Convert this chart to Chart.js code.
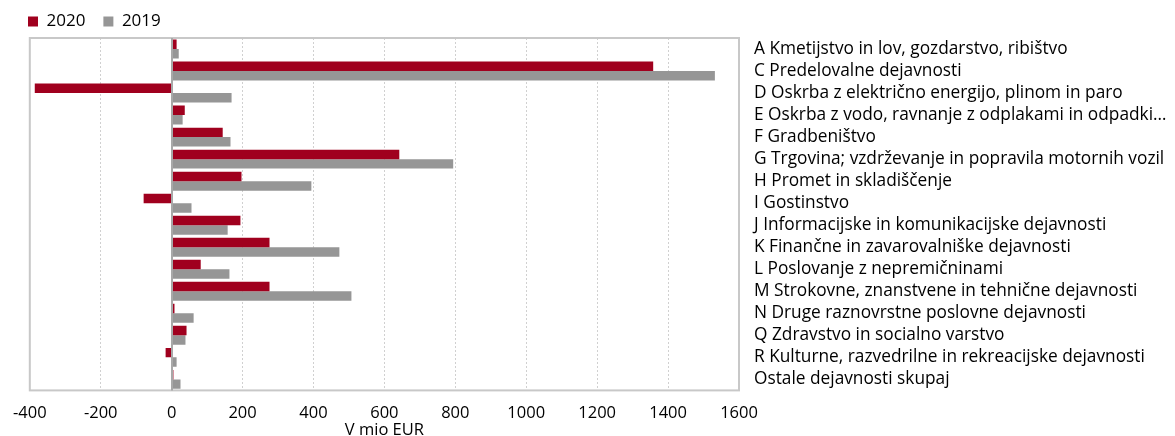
<!DOCTYPE html>
<html>
<head>
<meta charset="utf-8">
<script src="https://cdn.jsdelivr.net/npm/chart.js@4"></script>
<style>
  html, body { margin: 0; padding: 0; background: #fff; }
  #wrap { width: 1175px; height: 436px; }
</style>
</head>
<body>
<div id="wrap"><canvas id="chart"></canvas></div>
<script>
// Dejavnosti (kategorije)
const categories = [
    "A Kmetijstvo in lov, gozdarstvo, ribištvo",
    "C Predelovalne dejavnosti",
    "D Oskrba z električno energijo, plinom in paro",
    "E Oskrba z vodo, ravnanje z odplakami in odpadki…",
    "F Gradbeništvo",
    "G Trgovina; vzdrževanje in popravila motornih vozil",
    "H Promet in skladiščenje",
    "I Gostinstvo",
    "J Informacijske in komunikacijske dejavnosti",
    "K Finančne in zavarovalniške dejavnosti",
    "L Poslovanje z nepremičninami",
    "M Strokovne, znanstvene in tehnične dejavnosti",
    "N Druge raznovrstne poslovne dejavnosti",
    "Q Zdravstvo in socialno varstvo",
    "R Kulturne, razvedrilne in rekreacijske dejavnosti",
    "Ostale dejavnosti skupaj"
];

// Vrednosti v mio EUR
const values2020 = [14, 1358, -386, 37, 144, 642, 197, -79, 194, 276, 82, 276, 8, 42, -17, 5];
const values2019 = [20, 1532, 169, 31, 166, 794, 394, 56, 158, 473, 163, 507, 62, 39, 14, 25];

const xTicks = [-400, -200, 0, 200, 400, 600, 800, 1000, 1200, 1400, 1600];

const font = "'Open Sans', Lato, sans-serif";

// Okvir in ničelna črta
const framePlugin = {
    id: "frame",
    afterDatasetsDraw(chart) {
        const { ctx, chartArea: a, scales } = chart;
        ctx.save();
        ctx.strokeStyle = "#c8c8c8";
        ctx.lineWidth = 2;
        ctx.strokeRect(a.left, a.top, a.right - a.left, a.bottom - a.top);
        const x0 = Math.round(scales.x.getPixelForValue(0));
        ctx.strokeStyle = "#a8a8a8";
        ctx.beginPath();
        ctx.moveTo(x0, a.top);
        ctx.lineTo(x0, a.bottom);
        ctx.stroke();
        ctx.restore();
    }
};

// Legenda: fiksna višina in zamik
const legendPlugin = {
    id: "legendPos",
    beforeLayout(chart) {
        const lg = chart.legend;
        if (lg && !lg._patched) {
            const fit = lg.fit.bind(lg);
            lg.fit = function () { fit(); this.height = 38; };
            lg._patched = true;
        }
    },
    afterLayout(chart) {
        chart.legend.left += 10;
        chart.legend.top -= 5;
    }
};

const ctx = document.getElementById("chart").getContext("2d");

new Chart(ctx, {
    type: "bar",
    data: {
        labels: categories,
        datasets: [
            { label: "2020", data: values2020, backgroundColor: "#a0001e" },
            { label: "2019", data: values2019, backgroundColor: "#969696" }
        ]
    },
    options: {
        indexAxis: "y",
        responsive: true,
        maintainAspectRatio: false,
        animation: false,
        layout: { padding: 0 },
        categoryPercentage: 0.86,
        barPercentage: 1.0,
        plugins: {
            legend: {
                align: "start",
                labels: {
                    boxWidth: 10,
                    boxHeight: 10,
                    color: "#000",
                    font: { family: font, size: 17 },
                    padding: 18
                }
            },
            tooltip: { enabled: false }
        },
        scales: {
            x: {
                min: -400,
                max: 1600,
                afterBuildTicks: (s) => { s.ticks = xTicks.map(v => ({ value: v })); },
                grid: { color: "#d0d0d0", drawTicks: false, lineWidth: 1 },
                border: { display: false, dash: [2, 2] },
                ticks: {
                    color: "#000",
                    padding: 13,
                    maxRotation: 0,
                    callback: (v) => String(v),
                    font: { family: font, size: 16.5 }
                },
                title: {
                    display: true,
                    text: "V mio EUR",
                    color: "#000",
                    padding: { top: -16, bottom: -4 },
                    font: { family: font, size: 16.5 }
                }
            },
            y: {
                position: "right",
                grid: { display: false, drawTicks: false },
                border: { display: false },
                afterFit: (s) => { s.width = 436; },
                ticks: {
                    color: "#000",
                    padding: 15,
                    autoSkip: false,
                    font: { family: font, size: 17.3 }
                }
            }
        }
    },
    plugins: [framePlugin, legendPlugin]
});
</script>
</body>
</html>
